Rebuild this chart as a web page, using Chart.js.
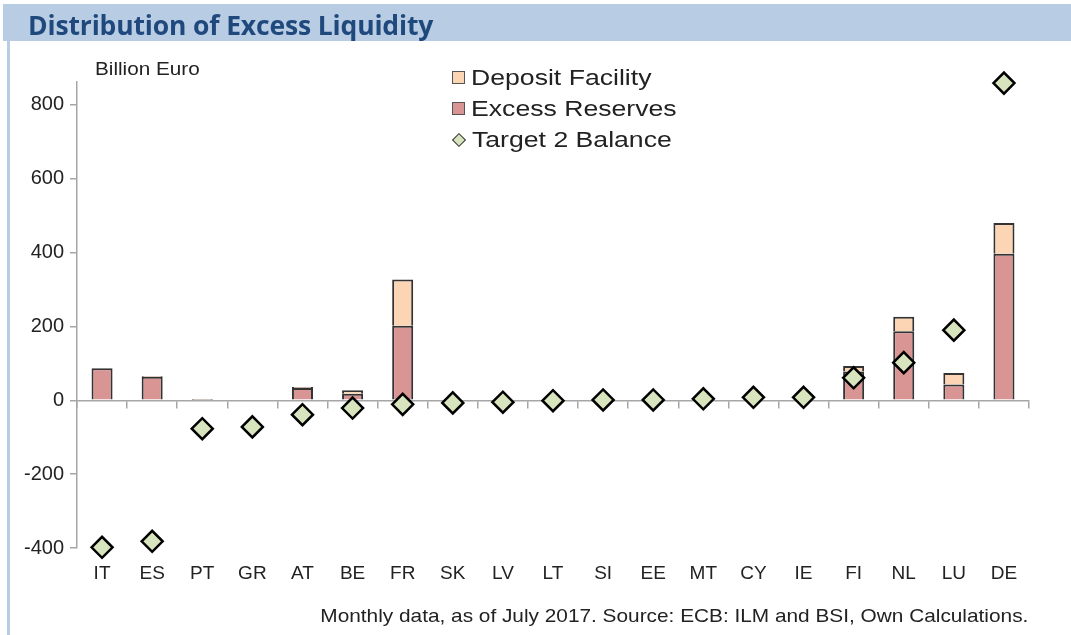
<!DOCTYPE html>
<html>
<head>
<meta charset="utf-8">
<script src="https://cdn.jsdelivr.net/npm/chart.js@4/dist/chart.umd.min.js"></script>
<style>
    html, body { margin: 0; padding: 0; background: #fff; }
    #wrap { position: relative; width: 1071px; height: 635px; overflow: hidden; font-family: "Liberation Sans", Arial, sans-serif; color: #222; }
    #chart { position: absolute; left: 0; top: 0; }
    .titlebar { position: absolute; left: 3px; top: 4px; width: 1068px; height: 37px; background: #b8cce4; }
    .titlebar span { position: absolute; left: 25px; top: 3px; font-family: "Liberation Sans Narrow", "Open Sans", sans-serif; font-weight: bold; font-size: 26.5px; color: #1f497d; letter-spacing: -0.15px; }
    .leftline { position: absolute; left: 7px; top: 41px; width: 3px; height: 594px; background: #b8cce4; }
    .unit { position: absolute; left: 95px; top: 59px; font-size: 18px; transform: scaleX(1.15); transform-origin: left center; white-space: nowrap; }
    .legend { position: absolute; left: 452px; top: 62px; }
    .legend div { height: 31px; display: flex; align-items: center; }
    .legend i { display: inline-block; width: 13px; height: 13px; border: 1px solid #555; box-sizing: border-box; margin-right: 6px; }
    .legend i.dia { width: 10px; height: 10px; transform: rotate(45deg); margin: 0 8px 0 2px; border-color: #333; }
    .legend span { font-size: 22px; transform: scaleX(1.21); transform-origin: left center; white-space: nowrap; }
    .note { position: absolute; right: 43px; top: 605px; font-size: 18.5px; white-space: nowrap; transform: scaleX(1.125); transform-origin: right center; }
</style>
</head>
<body>
<div id="wrap">
    <canvas id="chart" width="1071" height="635"></canvas>
    <div class="titlebar"><span>Distribution of Excess Liquidity</span></div>
    <div class="leftline"></div>
    <div class="unit">Billion Euro</div>
    <div class="legend">
        <div><i style="background:#fcd5b5"></i><span>Deposit Facility</span></div>
        <div><i style="background:#d99594"></i><span>Excess Reserves</span></div>
        <div><i class="dia" style="background:#d7e4bd"></i><span>Target 2 Balance</span></div>
    </div>
    <div class="note">Monthly data, as of July 2017. Source: ECB: ILM and BSI, Own Calculations.</div>
</div>
<script>
const categories = ['IT', 'ES', 'PT', 'GR', 'AT', 'BE', 'FR', 'SK', 'LV', 'LT', 'SI', 'EE', 'MT', 'CY', 'IE', 'FI', 'NL', 'LU', 'DE'];
const excessReserves = [87, 64, 1, 0, 33, 18, 202, 0, 0, 0, 0, 0, 0, 0, 0, 78, 187, 43, 397];
const depositFacility = [0, 2, 1, 0, 3, 9, 125, 0, 0, 0, 0, 0, 0, 0, 0, 15, 39, 31, 83];
const target2Balance = [-398, -382, -77, -72, -39, -21, -11, -7, -5, -1, 1, 1, 4, 8, 8, 61, 102, 190, 859];
const yTicks = [-400, -200, 0, 200, 400, 600, 800];

const axisGrey = '#a6a6a6';
const tickFont = { family: '"Liberation Sans", Arial, sans-serif', size: 20 };

new Chart(document.getElementById('chart'), {
    type: 'bar',
    data: {
        labels: categories,
        datasets: [
            {
                type: 'line',
                label: 'Target 2 Balance',
                data: target2Balance,
                showLine: false,
                clip: false,
                pointStyle: 'rectRot',
                pointRadius: 10.5,
                pointBackgroundColor: '#d7e4bd',
                pointBorderColor: '#000',
                pointBorderWidth: 2.5,
                order: 0,
            },
            {
                label: 'Excess Reserves',
                data: excessReserves,
                backgroundColor: '#d99594',
                borderColor: '#333',
                borderWidth: 2,
                order: 1,
            },
            {
                label: 'Deposit Facility',
                data: depositFacility,
                backgroundColor: '#fcd5b5',
                borderColor: '#333',
                borderWidth: 2,
                order: 1,
            },
        ],
    },
    options: {
        responsive: false,
        animation: false,
        events: [],
        barPercentage: 0.42,
        categoryPercentage: 1,
        layout: { padding: { left: 0, top: 82, right: 42, bottom: 0 } },
        plugins: {
            legend: { display: false },
            tooltip: { enabled: false },
        },
        scales: {
            x: {
                stacked: true,
                grid: { display: false },
                border: { display: false },
                ticks: { color: '#222', font: { ...tickFont, size: 19 }, padding: 6, maxRotation: 0, autoSkip: false },
                afterFit: (scale) => { scale.height = 87; },
            },
            zero: {
                type: 'category',
                axis: 'x',
                position: { y: 0 },
                offset: true,
                grid: { offset: true, drawOnChartArea: false, drawTicks: true, tickLength: 7, color: axisGrey, lineWidth: 1.5 },
                border: { color: axisGrey, width: 1.5 },
                ticks: { display: false },
            },
            y: {
                stacked: true,
                min: -400,
                max: 862,
                afterBuildTicks: (scale) => { scale.ticks = yTicks.map((v) => ({ value: v })); },
                grid: { drawOnChartArea: false, drawTicks: true, tickLength: 7, color: axisGrey, lineWidth: 1.5 },
                border: { color: axisGrey, width: 1.5 },
                ticks: { color: '#222', font: tickFont, padding: 6 },
                afterFit: (scale) => { scale.width = 77; },
            },
        },
    },
});
</script>
</body>
</html>
